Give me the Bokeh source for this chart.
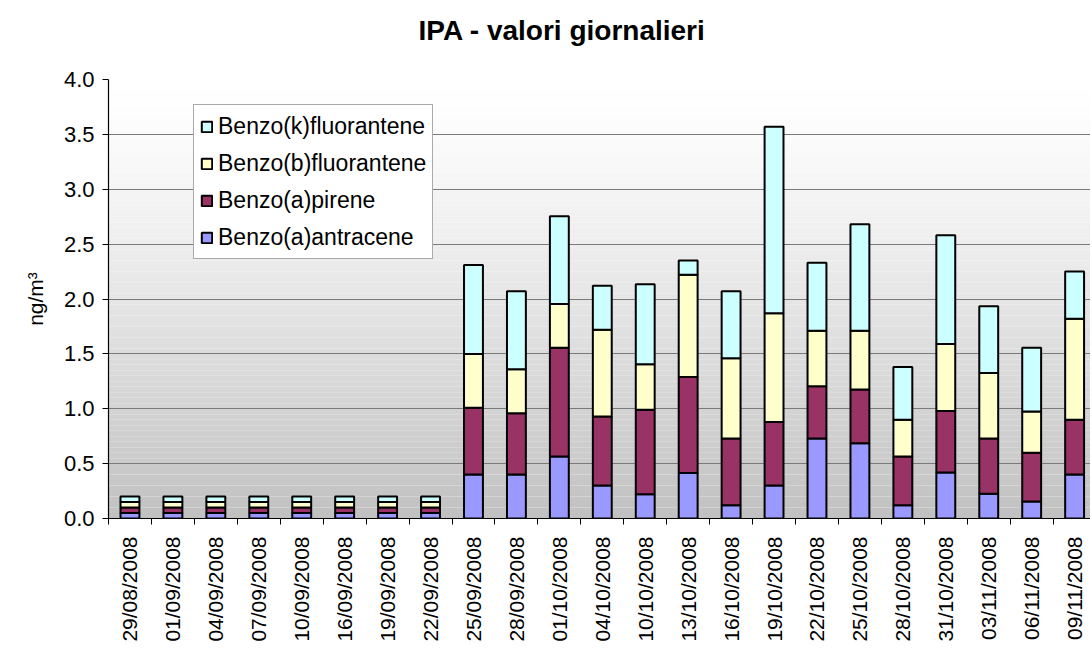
import math
import numpy as np
from bokeh.plotting import figure
from bokeh.models import (ColumnDataSource, Range1d, FixedTicker, NumeralTickFormatter,
                          Legend, LegendItem, Title)
from bokeh.embed import file_html
from bokeh.resources import INLINE

# ---- data ----
dates = ["29/08/2008", "01/09/2008", "04/09/2008", "07/09/2008", "10/09/2008",
         "16/09/2008", "19/09/2008", "22/09/2008", "25/09/2008", "28/09/2008",
         "01/10/2008", "04/10/2008", "10/10/2008", "13/10/2008", "16/10/2008",
         "19/10/2008", "22/10/2008", "25/10/2008", "28/10/2008", "31/10/2008",
         "03/11/2008", "06/11/2008", "09/11/2008"]
benzo_a_antracene = [0.05, 0.05, 0.05, 0.05, 0.05, 0.05, 0.05, 0.05, 0.40, 0.40,
                     0.565, 0.30, 0.22, 0.415, 0.12, 0.30, 0.73, 0.685, 0.12, 0.42,
                     0.225, 0.155, 0.40]
benzo_a_pirene = [0.05, 0.05, 0.05, 0.05, 0.05, 0.05, 0.05, 0.05, 0.61, 0.56,
                  0.99, 0.63, 0.77, 0.875, 0.61, 0.58, 0.475, 0.49, 0.445, 0.56,
                  0.505, 0.445, 0.50]
benzo_b_fluorantene = [0.05, 0.05, 0.05, 0.05, 0.05, 0.05, 0.05, 0.05, 0.49, 0.40,
                       0.40, 0.79, 0.415, 0.93, 0.73, 0.99, 0.505, 0.535, 0.335, 0.61,
                       0.595, 0.375, 0.92]
benzo_k_fluorantene = [0.05, 0.05, 0.05, 0.05, 0.05, 0.05, 0.05, 0.05, 0.81, 0.71,
                       0.80, 0.40, 0.73, 0.13, 0.61, 1.70, 0.62, 0.97, 0.48, 0.99,
                       0.61, 0.58, 0.43]
series_names = ["Benzo(a)antracene", "Benzo(a)pirene", "Benzo(b)fluorantene", "Benzo(k)fluorantene"]
series_colors = ["#9999FF", "#993366", "#FFFFCC", "#CCFFFF"]
y_ticks = [0.0, 0.5, 1.0, 1.5, 2.0, 2.5, 3.0, 3.5, 4.0]
title_text = "IPA - valori giornalieri"

FONT = "Liberation Sans"
n = len(dates)
xs = [i + 0.5 for i in range(n)]

src = ColumnDataSource(dict(x=xs,
                            s0=benzo_a_antracene, s1=benzo_a_pirene,
                            s2=benzo_b_fluorantene, s3=benzo_k_fluorantene))

p = figure(width=1090, height=648, output_backend="svg", toolbar_location=None,
           title=None,
           x_range=Range1d(0, 22.87), y_range=Range1d(0, 4.0),
           min_border_left=108, min_border_right=0, min_border_top=79, min_border_bottom=130)

# background gradient (decoration)
edges = np.linspace(0, 4.0, 81)
bcols = []
for k in range(80):
    v = (edges[k] + edges[k + 1]) / 2
    g = int(round(255 - 63 * (1 - v / 4.0) ** 1.3))
    bcols.append("#%02x%02x%02x" % (g, g, g))
bg = p.quad(left=-1, right=30, bottom=edges[:-1], top=edges[1:], fill_color=bcols,
            line_color=None, level="image")

p.outline_line_color = None
p.background_fill_color = "white"
p.border_fill_color = "white"

# grid
p.xgrid.grid_line_color = None
p.ygrid.grid_line_color = "#7a7a7a"
p.ygrid.grid_line_width = 1.2
p.ygrid.ticker = FixedTicker(ticks=y_ticks)

# bars
rs = p.vbar_stack(["s0", "s1", "s2", "s3"], x="x", width=0.44, source=src,
                  color=series_colors, line_color="black", line_width=2)

# legend (reverse order)
items = [LegendItem(label=series_names[i], renderers=[rs[i]]) for i in [3, 2, 1, 0]]
legend = Legend(items=items, location=(85, 259))
legend.label_text_font = FONT
legend.label_text_font_size = "23px"
legend.label_text_color = "black"
legend.label_height = 30
legend.glyph_height = 13
legend.glyph_width = 13
legend.spacing = 7
legend.padding = 6
legend.margin = 0
legend.label_standoff = 5
legend.border_line_color = "#555555"
legend.border_line_width = 1
legend.background_fill_color = "white"
legend.background_fill_alpha = 1.0
p.add_layout(legend, "center")

# x axis
xa = p.xaxis[0]
xa.ticker = FixedTicker(ticks=xs, minor_ticks=list(range(n + 1)))
xa.major_label_overrides = {x: d for x, d in zip(xs, dates)}
xa.major_tick_out = 0
xa.major_tick_in = 0
xa.minor_tick_out = 6
xa.minor_tick_in = 0
xa.minor_tick_line_color = "black"
xa.axis_line_color = "black"
xa.axis_line_width = 1.2
xa.major_label_orientation = math.pi / 2
xa.major_label_standoff = 12
xa.major_label_text_font = FONT
xa.major_label_text_font_size = "21px"
xa.major_label_text_color = "black"

# y axis
ya = p.yaxis[0]
ya.ticker = FixedTicker(ticks=y_ticks)
ya.formatter = NumeralTickFormatter(format="0.0")
ya.major_tick_out = 6
ya.major_tick_in = 0
ya.minor_tick_out = 0
ya.minor_tick_in = 0
ya.axis_line_color = "black"
ya.axis_line_width = 1.2
ya.major_label_text_font = FONT
ya.major_label_text_font_size = "22px"
ya.major_label_text_color = "black"
ya.major_label_standoff = 8
ya.axis_label = "ng/m\u00b3"
ya.axis_label_text_font = FONT
ya.axis_label_text_font_size = "21px"
ya.axis_label_text_font_style = "normal"
ya.axis_label_text_color = "black"
ya.axis_label_standoff = 14

# spacer (nearest the frame) and title
spacer = Title(text=" ", text_font_size="1px", standoff=26)
p.add_layout(spacer, "above")
main_title = Title(text=title_text, text_font=FONT, text_font_size="28px",
                   text_font_style="bold", text_color="black", align="left",
                   offset=310, standoff=10)
p.add_layout(main_title, "above")

open("out.html", "w").write(file_html(p, INLINE))
